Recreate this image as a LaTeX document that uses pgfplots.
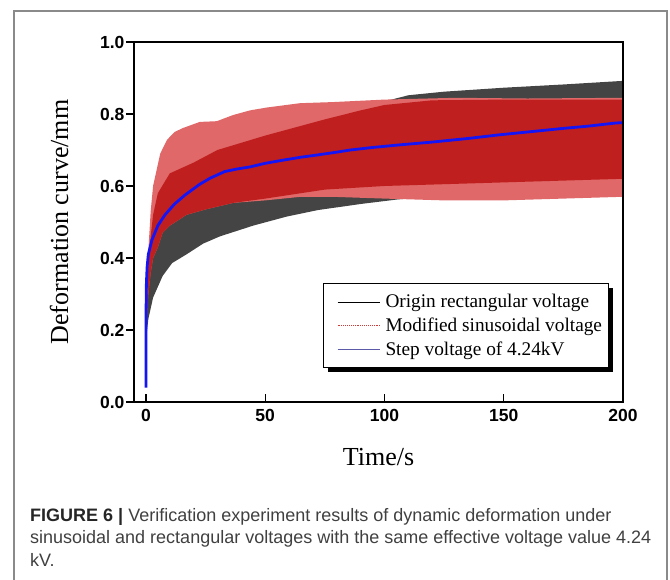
\documentclass[border=0pt]{standalone}
\usepackage{fontspec}
\setmainfont{Liberation Serif}
\newfontfamily\arial{Liberation Sans}
\usepackage{pgfplots}
\pgfplotsset{compat=1.18}
\usepgfplotslibrary{fillbetween}
\usepackage{pgfplotstable}

\definecolor{blk}{HTML}{444444}
\definecolor{pinkr}{HTML}{E06868}
\definecolor{darkr}{HTML}{C01F1F}
\definecolor{bline}{HTML}{1414F5}
\definecolor{framec}{HTML}{8A8A8A}
\definecolor{capc}{HTML}{404040}
\definecolor{legred}{HTML}{C83C3C}
\definecolor{legblue}{HTML}{5A5AA8}

\pgfplotstableread{
t y
0 0.17
0.5 0.30
1 0.38
2 0.45
3 0.50
5 0.55
10 0.62
20 0.68
30 0.71
50 0.76
75 0.80
100 0.835
110 0.852
125 0.862
150 0.873
175 0.882
200 0.892
}\rectupper

\pgfplotstableread{
t y
0 0.17
0.5 0.20
1 0.23
2 0.26
3 0.29
5 0.32
7 0.35
11 0.386
17 0.41
24 0.44
31 0.46
45 0.49
59 0.515
72 0.533
90 0.55
106 0.563
130 0.575
160 0.585
200 0.595
}\rectlower

\pgfplotstableread{
t y
0 0.20
0.5 0.30
1 0.42
2 0.53
3 0.60
4.5 0.645
6 0.69
8.8 0.728
12 0.75
15.5 0.761
22.6 0.778
29.7 0.78
36.5 0.797
43.6 0.81
50.7 0.818
64.6 0.83
78 0.833
100 0.84
130 0.845
160 0.843
200 0.845
}\sinupper

\pgfplotstableread{
t y
0 0.20
1 0.30
2 0.36
3 0.40
5 0.43
7 0.47
10 0.49
17 0.52
25 0.535
36.5 0.553
50 0.56
65 0.57
78 0.57
100 0.565
125 0.56
150 0.56
175 0.565
200 0.57
}\sinlower

\pgfplotstableread{
t y
0 0.20
1 0.38
2 0.46
3 0.52
5 0.58
10 0.635
20 0.665
30 0.70
50 0.74
75 0.785
90 0.81
100 0.825
120 0.838
150 0.84
200 0.84
}\sincoreup

\pgfplotstableread{
t y
0 0.20
1 0.30
2 0.36
3 0.40
5 0.43
7 0.47
10 0.49
17 0.52
25 0.535
36.5 0.553
50 0.565
75 0.59
100 0.60
150 0.61
200 0.62
}\sincorelow

\pgfplotstableread{
t y
0 0.04
0.05 0.25
0.2 0.33
0.5 0.375
1 0.41
2.5 0.45
5 0.49
8 0.52
12 0.55
16.4 0.575
22.6 0.605
27 0.622
33 0.64
38 0.647
43.6 0.653
50 0.663
57.7 0.672
65 0.68
71.7 0.686
80 0.694
85.7 0.70
95 0.707
106 0.714
120 0.722
135 0.732
148 0.742
160 0.75
175 0.76
185 0.766
197 0.775
200 0.776
}\stepdata

\begin{document}
\begin{tikzpicture}
\draw[framec, line width=1.2pt] (14pt,-5pt) -- (14pt,569pt) -- (667pt,569pt) -- (667pt,-5pt);
\begin{axis}[
  at={(134pt,178pt)}, anchor=south west,
  width=489pt, height=360pt, scale only axis,
  xmin=-5, xmax=200, ymin=0, ymax=1,
  xtick={0,50,100,150,200}, ytick={0,0.2,0.4,0.6,0.8,1.0},
  xtick pos=bottom, ytick pos=left,
  xtick align=inside, ytick align=outside,
  major tick length=8pt,
  tick style={line width=1.2pt, black},
  axis line style={line width=1.6pt},
  axis on top,
  /pgf/number format/assume math mode=true,
  ticklabel style={font=\arial\bfseries\fontsize{17.5}{17.5}\selectfont},
  xticklabel style={yshift=-4pt},
  yticklabel style={xshift=2pt, /pgf/number format/.cd, fixed, fixed zerofill, precision=1},
  xlabel={Time/s}, ylabel={Deformation curve/mm},
  label style={font=\fontsize{26}{28}\selectfont},
  xlabel style={at={(axis description cs:0.5,-0.1528)}, anchor=center},
  ylabel style={at={(axis description cs:-0.1534,0.5)}, anchor=center},
  legend style={at={(axis description cs:0.3865,0.3306)}, anchor=north west,
    draw=black, line width=1pt, fill=white,
    font=\fontsize{19.3}{22}\selectfont,
    inner xsep=4pt, inner ysep=9pt, row sep=4.5pt,
    cells={anchor=west}},
  legend image code/.code={\path[draw=none, fill=none] (0pt,0pt) -- (56pt,0pt); \draw[#1, fill=none] (10pt,0pt) -- (52pt,0pt);},
]
\addplot[name path=ru, draw=none, forget plot] table[x=t,y=y] {\rectupper};
\addplot[name path=rl, draw=none, forget plot] table[x=t,y=y] {\rectlower};
\addplot[blk, forget plot] fill between[of=ru and rl];
\addplot[name path=su, draw=none, forget plot] table[x=t,y=y] {\sinupper};
\addplot[name path=sl, draw=none, forget plot] table[x=t,y=y] {\sinlower};
\addplot[pinkr, forget plot] fill between[of=su and sl];
\addplot[name path=cu, draw=none, forget plot] table[x=t,y=y] {\sincoreup};
\addplot[name path=cl, draw=none, forget plot] table[x=t,y=y] {\sincorelow};
\addplot[darkr, forget plot] fill between[of=cu and cl];
\addplot[bline, line width=2.8pt, forget plot] table[x=t,y=y] {\stepdata};
% legend drop shadow (drawn below the legend box)
\fill[black] (axis description cs:0.3967,0.0833) rectangle (axis description cs:0.9796,0.3167);
\addlegendimage{draw=black, line width=0.7pt}
\addlegendentry{Origin rectangular voltage}
\addlegendimage{draw=legred, line width=0.9pt, densely dotted}
\addlegendentry{Modified sinusoidal voltage}
\addlegendimage{draw=legblue, line width=0.9pt}
\addlegendentry{Step voltage of 4.24kV}
\end{axis}
\begin{scope}[every node/.style={anchor=base west, inner sep=0pt, font=\arial\fontsize{18}{20}\selectfont, text=capc}]
\node at (30pt,58pt) {{\bfseries\color{black!85}FIGURE 6 |} Verification experiment results of dynamic deformation under};
\node at (30pt,36pt) {sinusoidal and rectangular voltages with the same effective voltage value 4.24};
\node at (30pt,13pt) {kV.};
\end{scope}
\pgfresetboundingbox
\useasboundingbox (0pt,0pt) rectangle (670pt,580pt);
\end{tikzpicture}
\end{document}
